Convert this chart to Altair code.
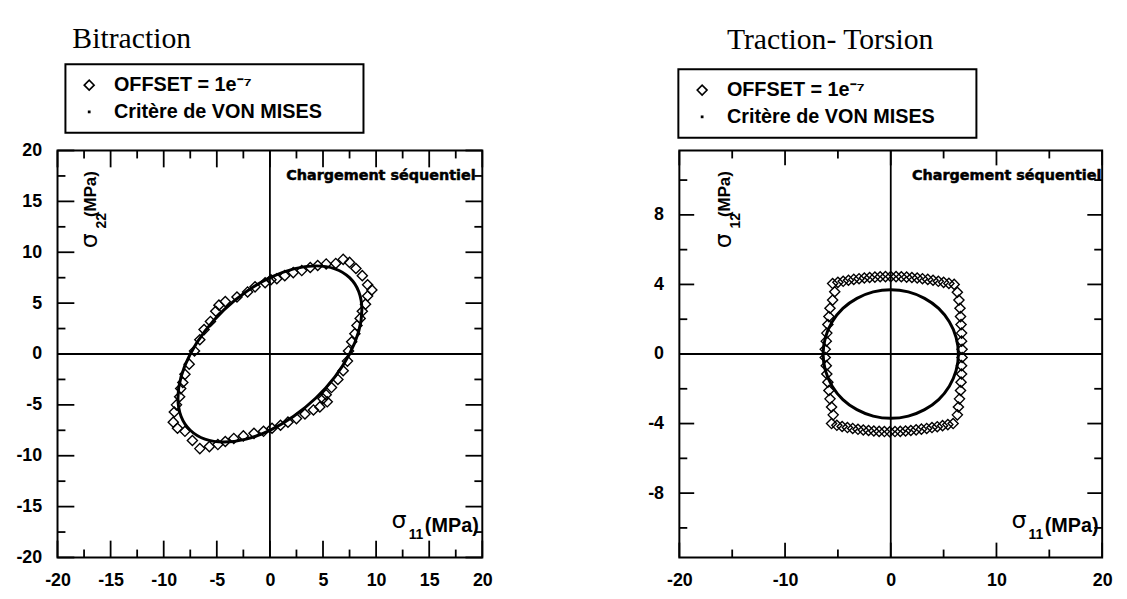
import altair as alt
import pandas as pd

# ------------------------------------------------------------------ data
SERIES = ["OFFSET = 1e\u207b\u2077", "Critère de VON MISES\u2800\u2800"]

# Bitraction : OFFSET = 1e-7 (diamonds)
BI_OFF_X = [7.4, 7.7, 8.0, 8.2, 8.5, 8.7, 9.0, 9.2, 9.6, 9.2, 8.7, 8.1, 7.5, 6.9, 6.2, 5.3, 4.5,
            3.8, 3.0, 2.2, 1.4, 0.65, 0.1, -0.45, -1.4, -2.1, -3.1, -4.2, -4.8, -5.1, -5.6, -6.2,
            -6.6, -7.1, -7.6, -8.0, -8.2, -8.4, -8.5, -8.8, -9.0, -9.1, -8.7, -8.0, -7.3, -6.6,
            -5.7, -4.9, -4.2, -3.4, -2.5, -1.5, -0.6, 0.2, 1.0, 1.7, 2.5, 3.3, 4.1, 4.7, 5.4,
            5.0, 5.3, 5.8, 6.4, 6.9, 7.3]
BI_OFF_Y = [0.3, 1.2, 2.0, 2.8, 3.5, 4.2, 4.9, 5.7, 6.3, 6.8, 7.7, 8.4, 9.0, 9.3, 8.9, 8.85, 8.7,
            8.5, 8.2, 8.0, 7.7, 7.4, 7.3, 7.0, 6.6, 6.1, 5.6, 5.15, 4.8, 4.2, 3.2, 2.4,
            1.4, 0.3, -1.0, -2.0, -2.8, -3.4, -4.2, -5.0, -5.7, -6.7, -7.3, -7.6, -8.5, -9.3,
            -9.1, -8.9, -8.6, -8.3, -8.05, -7.8, -7.6, -7.3, -7.0, -6.7, -6.35, -5.9, -5.5, -5.2, -4.7,
            -4.4, -4.0, -3.3, -2.5, -1.65, -0.7]

# Bitraction : critère de Von Mises (curve)
BI_VM_X = [7.5, 8.37, 8.66, 8.37, 7.5, 6.12, 4.33, 2.24, 0.0, -2.24, -4.33, -6.12,
           -7.5, -8.37, -8.66, -8.37, -7.5, -6.12, -4.33, -2.24, 0.0, 2.24, 4.33, 6.12]
BI_VM_Y = [7.5, 6.12, 4.33, 2.24, 0.0, -2.24, -4.33, -6.12, -7.5, -8.37, -8.66, -8.37,
           -7.5, -6.12, -4.33, -2.24, 0.0, 2.24, 4.33, 6.12, 7.5, 8.37, 8.66, 8.37]

# Traction-Torsion : OFFSET = 1e-7 (diamonds), by side of the contour
TT_TOP_X = [-5.5, -5.0, -4.5, -4.0, -3.5, -3.0, -2.5, -2.0, -1.5, -1.0, -0.5, 0.0,
            0.5, 1.0, 1.5, 2.0, 2.5, 3.0, 3.5, 4.0, 4.5, 5.0, 5.5, 6.0]
TT_TOP_Y = [4.05, 4.12, 4.18, 4.24, 4.29, 4.33, 4.37, 4.40, 4.42, 4.44, 4.45, 4.45,
            4.45, 4.44, 4.42, 4.40, 4.37, 4.33, 4.29, 4.24, 4.18, 4.12, 4.06, 4.0]
TT_LEFT_X = [-5.3, -5.5, -5.75, -5.85, -5.95, -6.05, -6.1, -6.2, -6.2, -6.1, -6.05, -5.95,
             -5.85, -5.75, -5.6, -5.45]
TT_LEFT_Y = [3.58, 3.1, 2.63, 2.15, 1.69, 1.2, 0.74, 0.27, -0.2, -0.67, -1.15, -1.62,
             -2.1, -2.58, -3.05, -3.5]
TT_BOT_X = [-5.6, -5.1, -4.6, -4.1, -3.6, -3.1, -2.6, -2.1, -1.6, -1.1, -0.6, -0.1,
            0.4, 0.9, 1.4, 1.9, 2.4, 2.9, 3.4, 3.9, 4.4, 4.9, 5.4, 5.9]
TT_BOT_Y = [-4.0, -4.1, -4.17, -4.23, -4.28, -4.33, -4.37, -4.4, -4.43, -4.45, -4.46, -4.47,
            -4.46, -4.45, -4.43, -4.4, -4.36, -4.32, -4.28, -4.23, -4.18, -4.12, -4.06, -4.0]
TT_RIGHT_X = [6.3, 6.45, 6.55, 6.6, 6.65, 6.7, 6.7, 6.75, 6.75, 6.7, 6.7, 6.65,
              6.6, 6.5, 6.4, 6.3]
TT_RIGHT_Y = [3.55, 3.1, 2.63, 2.15, 1.69, 1.2, 0.74, 0.27, -0.2, -0.67, -1.15, -1.62,
              -2.1, -2.58, -3.05, -3.5]

# Traction-Torsion : critère de Von Mises (curve)
TT_VM_X = [6.4, 6.18, 5.54, 4.53, 3.2, 1.66, 0.0, -1.66, -3.2, -4.53, -5.54, -6.18,
           -6.4, -6.18, -5.54, -4.53, -3.2, -1.66, 0.0, 1.66, 3.2, 4.53, 5.54, 6.18]
TT_VM_Y = [0.0, 0.96, 1.85, 2.62, 3.2, 3.57, 3.7, 3.57, 3.2, 2.62, 1.85, 0.96,
           0.0, -0.96, -1.85, -2.62, -3.2, -3.57, -3.7, -3.57, -3.2, -2.62, -1.85, -0.96]

# axes
BI_DOMAIN = [-20, 20]
BI_LABELS = [-20, -15, -10, -5, 0, 5, 10, 15, 20]
BI_MINOR = [-17.5, -12.5, -7.5, -2.5, 2.5, 7.5, 12.5, 17.5]
TT_X_DOMAIN = [-20, 20]
TT_Y_DOMAIN = [-11.7, 11.7]
TT_X_LABELS = [-20, -10, 0, 10, 20]
TT_X_MINOR = [-15, -5, 5, 15]
TT_Y_LABELS = [-8, -4, 0, 4, 8]
TT_Y_MINOR = [-10, -6, -2, 2, 6, 10]

# ------------------------------------------------------------------ style
SANS = "Liberation Sans"
SERIF = "Liberation Serif"
H = 411
DOT = "M-0.12,-0.12L0.12,-0.12L0.12,0.12L-0.12,0.12Z"
ONE = pd.DataFrame({"k": [0]})


def panel(title, title_dx, title_off, off_x, off_y, vm_x, vm_y, xdom, ydom, xlab, ylab,
          xminor, yminor, width, sub_y, sub_x, ylab_x, major_len, legend_xy, note_x):
    xs = alt.Scale(domain=xdom, nice=False, zero=False)
    ys = alt.Scale(domain=ydom, nice=False, zero=False)
    common = dict(title=None, ticks=False, domain=False, grid=False, labelFont=SANS,
                  labelFontWeight="bold", labelFontSize=18, labelColor="black",
                  labelOverlap=False, labelFlush=False, labelExpr="datum.value + ''")
    xa = alt.Axis(values=xlab, labelPadding=14, **common)
    ya = alt.Axis(values=ylab, labelPadding=16, **common)

    def X(f):
        return alt.X(f, type="quantitative", scale=xs, axis=xa)

    def Y(f):
        return alt.Y(f, type="quantitative", scale=ys, axis=ya)

    def XD(v):
        return alt.XDatum(v, type="quantitative", scale=xs, axis=xa)

    def YD(v):
        return alt.YDatum(v, type="quantitative", scale=ys, axis=ya)

    layers = []
    # zero lines
    layers.append(alt.Chart(ONE).mark_rule(color="black", strokeWidth=1.8).encode(x=XD(0)))
    layers.append(alt.Chart(ONE).mark_rule(color="black", strokeWidth=1.8).encode(y=YD(0)))

    # inward ticks on the four sides
    def ticks(xvals, yvals, length):
        out = []
        dx = pd.DataFrame({"v": xvals})
        dy = pd.DataFrame({"v": yvals})
        r = dict(color="black", strokeWidth=1.8)
        out.append(alt.Chart(dx).mark_rule(**r).encode(x=X("v"), y=YD(ydom[0]), y2=alt.value(H - length)))
        out.append(alt.Chart(dx).mark_rule(**r).encode(x=X("v"), y=YD(ydom[1]), y2=alt.value(length)))
        out.append(alt.Chart(dy).mark_rule(**r).encode(y=Y("v"), x=XD(xdom[0]), x2=alt.value(length)))
        out.append(alt.Chart(dy).mark_rule(**r).encode(y=Y("v"), x=XD(xdom[1]), x2=alt.value(width - length)))
        return out

    layers += ticks(xlab, ylab, major_len)
    layers += ticks(xminor, yminor, 8)

    # Von Mises curve
    vm = pd.DataFrame({"x": vm_x, "y": vm_y, "i": list(range(len(vm_x)))})
    layers.append(alt.Chart(vm).mark_line(interpolate="cardinal-closed", color="black",
                                          strokeWidth=3).encode(x=X("x"), y=Y("y"), order="i:Q"))

    # diamonds
    off = pd.DataFrame({"x": off_x, "y": off_y, "s": SERIES[0]})
    legend = alt.Legend(title=None, orient="none", legendX=legend_xy[0], legendY=legend_xy[1],
                        strokeColor="black", padding=11, labelFont=SANS, labelFontWeight="bold",
                        labelFontSize=20, labelColor="black", symbolSize=100,
                        symbolStrokeColor="black", symbolFillColor="white",
                        symbolStrokeWidth=1.6, rowPadding=7, labelOffset=15, symbolOffset=3,
                        labelLimit=500)
    layers.append(alt.Chart(off).mark_point(filled=False, size=105, strokeWidth=1.4,
                                            color="black", opacity=1).encode(
        x=X("x"), y=Y("y"),
        shape=alt.Shape("s:N", scale=alt.Scale(domain=SERIES, range=["diamond", DOT]),
                        legend=legend)))

    # annotations
    def txt(text, x, y, size, angle=0, align="center", font=SANS, weight="bold", sw=0):
        return alt.Chart(ONE).mark_text(text=text, fontSize=size, font=font, fontWeight=weight,
                                        angle=angle, align=align, baseline="middle",
                                        color="black", stroke="black", strokeWidth=sw).encode(
            x=alt.value(x), y=alt.value(y))

    layers.append(txt("Chargement séquentiel", note_x, 26, 14.5, align="left",
                      font="DejaVu Sans", sw=0.5))
    # vertical axis name
    layers.append(txt("σ", ylab_x, 91, 24, angle=270, font="DejaVu Sans", weight="normal"))
    layers.append(txt(sub_y, ylab_x + 12, 71, 14, angle=270))
    layers.append(txt("(MPa)", ylab_x + 1, 44, 17, angle=270))
    # horizontal axis name
    layers.append(txt("σ", width - 84, 374, 24, font="DejaVu Sans", weight="normal"))
    layers.append(txt(sub_x, width - 67, 388, 14))
    layers.append(txt("(MPa)", width - 58, 379, 20, align="left"))

    return alt.layer(*layers).properties(
        width=width, height=H,
        title=alt.TitleParams(title, anchor="start", frame="group", dx=title_dx, offset=title_off,
                              font=SERIF, fontSize=30, fontWeight="normal", color="black",
                              baseline="alphabetic"))


left = panel("Bitraction", 15, -14, BI_OFF_X, BI_OFF_Y, BI_VM_X, BI_VM_Y, BI_DOMAIN, BI_DOMAIN,
             BI_LABELS, BI_LABELS, BI_MINOR, BI_MINOR, 429, "22", "11", 33, 17, (8, -87), 231)
right = panel("Traction- Torsion", 48, -10,
              TT_TOP_X + TT_LEFT_X + TT_BOT_X + TT_RIGHT_X,
              TT_TOP_Y + TT_LEFT_Y + TT_BOT_Y + TT_RIGHT_Y,
              TT_VM_X, TT_VM_Y, TT_X_DOMAIN, TT_Y_DOMAIN, TT_X_LABELS, TT_Y_LABELS,
              TT_X_MINOR, TT_Y_MINOR, 427, "12", "11", 45, 15, (-1, -82), 235)

chart = alt.hconcat(left, right, spacing=153).resolve_scale(
    x="independent", y="independent", shape="independent"
).resolve_legend(shape="independent").resolve_axis(
    x="independent", y="independent"
).configure_view(stroke="black", strokeWidth=2).configure_legend(strokeWidth=2).properties(
    padding={"left": 6, "top": 12, "right": 5, "bottom": 5}
)

chart.save("out.html", embed_options={"renderer": "svg", "actions": False})
